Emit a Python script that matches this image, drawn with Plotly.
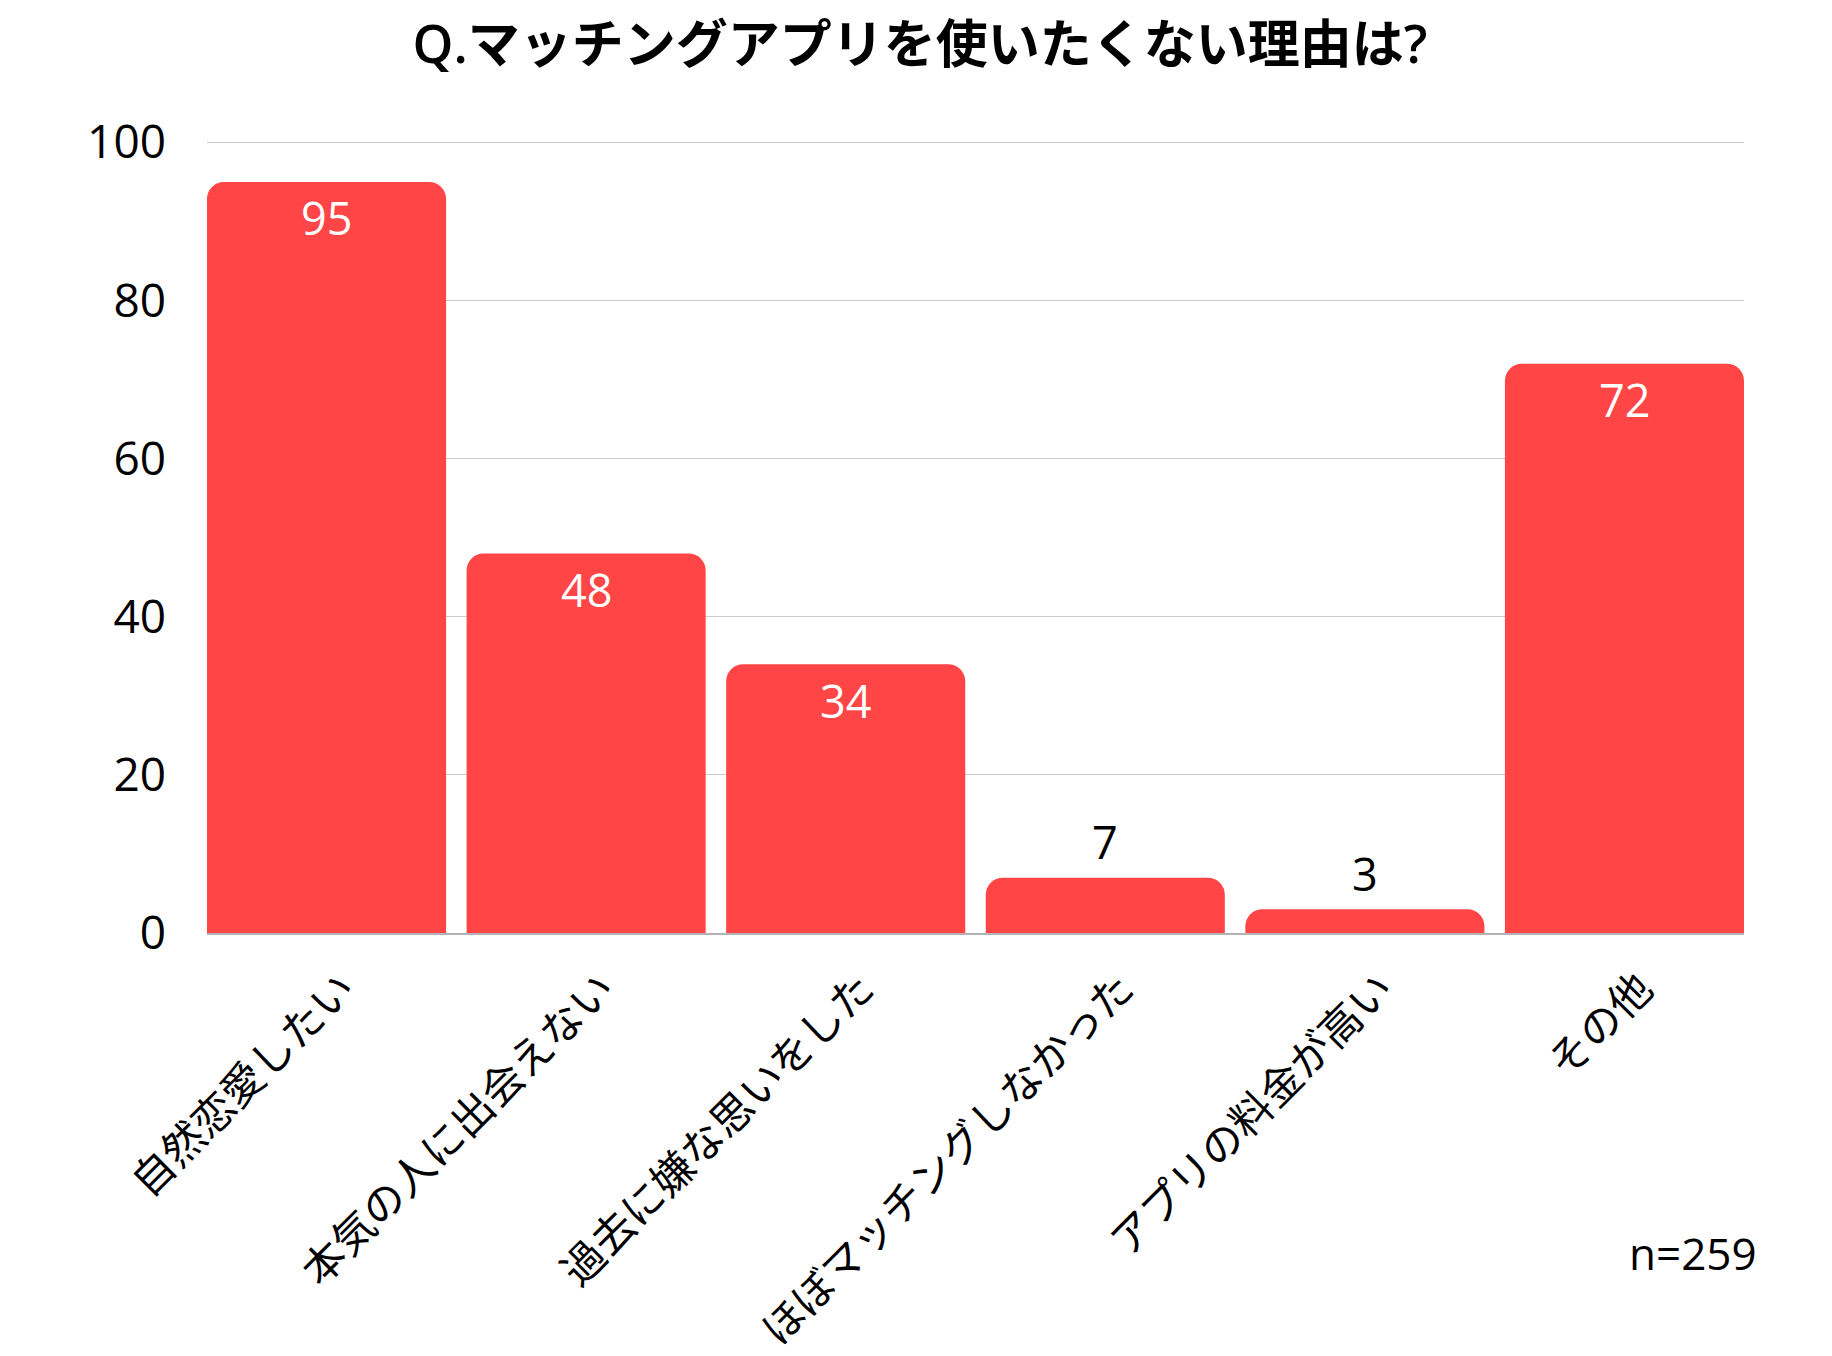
import plotly.graph_objects as go

# data
categories = ['自然恋愛したい', '本気の人に出会えない', '過去に嫌な思いをした',
              'ほぼマッチングしなかった', 'アプリの料金が高い', 'その他']
counts = [95, 48, 34, 7, 3, 72]
y_ticks = [0, 20, 40, 60, 80, 100]

FONT = 'Open Sans, Noto Sans CJK JP, sans-serif'
RED = '#ff4545'

fig = go.Figure(go.Bar(
    x=list(range(len(categories))),
    y=counts,
    marker=dict(color=RED, cornerradius=17, line=dict(width=0)),
    cliponaxis=False,
))

# value labels: inside (white) for tall bars, above (black) for short ones
for i, v in enumerate(counts):
    inside = v > 20
    fig.add_annotation(x=i, y=v, text=str(v), showarrow=False,
                       xanchor='center', yanchor='middle',
                       yshift=-36 if inside else 36,
                       font=dict(family=FONT, size=45, color='white' if inside else 'black'))

gap = 0.079
fig.update_layout(
    width=1824, height=1348,  # page body adds 8px margin
    margin=dict(l=199, r=88, t=132, b=423),
    paper_bgcolor='white', plot_bgcolor='white',
    bargap=gap,
    showlegend=False,
    font=dict(family=FONT, size=44, color='black'),
    title=dict(text='Q.マッチングアプリを使いたくない理由は?',
               x=0.5, xanchor='center', y=0.973, yanchor='middle',
               font=dict(family=FONT, size=52, color='black', weight=600)),
    xaxis=dict(
        tickmode='array', tickvals=list(range(len(categories))), ticktext=categories,
        tickangle=-45, range=[-0.5 + gap / 2, len(categories) - 0.5 - gap / 2],
        showgrid=False, zeroline=False, showline=True, linecolor='#b3b3b3', linewidth=2,
        ticklabelshift=16, ticklabelstandoff=12, automargin=False,
        tickfont=dict(family=FONT, size=42, color='black'),
    ),
    yaxis=dict(
        range=[0, 100.3], tickvals=y_ticks, showgrid=True, gridcolor='#cccccc', gridwidth=1,
        zeroline=False, showline=False, ticklabelstandoff=40, automargin=False,
        tickfont=dict(family=FONT, size=46, color='black'),
    ),
)
fig.add_annotation(text='n=259', xref='paper', yref='paper', x=1.0095, y=-0.4035,
                   xanchor='right', yanchor='middle', showarrow=False,
                   font=dict(family=FONT, size=44, color='black'))

fig.write_html('out.html')
